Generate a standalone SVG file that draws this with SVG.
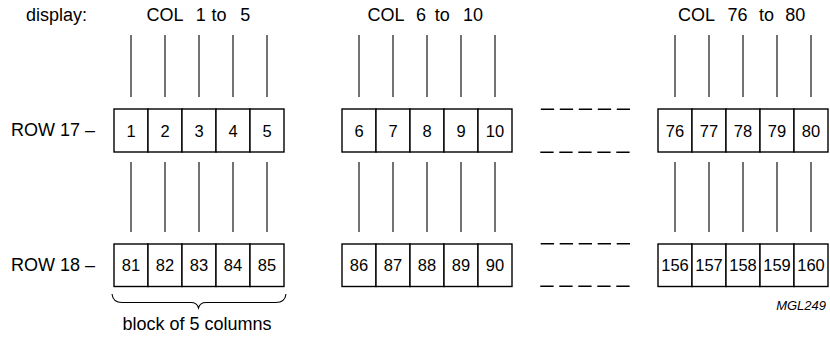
<svg xmlns="http://www.w3.org/2000/svg" width="830" height="338" viewBox="0 0 830 338">
<style>
.lbl{font-family:"Liberation Sans",Arial,sans-serif;font-size:18px;fill:#000}
.num{font-family:"Liberation Sans",Arial,sans-serif;font-size:16.5px;fill:#000;text-anchor:middle}
.tag{font-family:"Liberation Sans",Arial,sans-serif;font-size:13px;font-style:italic;fill:#000;text-anchor:end}
.cell{fill:#fff;stroke:#000;stroke-width:1.4}
.wire{stroke:#000;stroke-width:1.1;fill:none}
.dash{stroke:#000;stroke-width:1.6;stroke-dasharray:13.3 5.7;fill:none}
.brace{stroke:#000;stroke-width:1.1;fill:none}
</style>
<rect width="830" height="338" fill="#fff"/>
<g id="labels">
<text class="lbl" x="26" y="21">display:</text>
<text class="lbl" y="21"><tspan x="146.4">COL</tspan> <tspan x="195.7">1</tspan> <tspan x="211.4">to</tspan> <tspan x="240.2">5</tspan></text>
<text class="lbl" y="21"><tspan x="367.4">COL</tspan> <tspan x="415.9">6</tspan> <tspan x="434.7">to</tspan> <tspan x="463">10</tspan></text>
<text class="lbl" y="21"><tspan x="678">COL</tspan> <tspan x="727.4">76</tspan> <tspan x="759">to</tspan> <tspan x="785.2">80</tspan></text>
<text class="lbl" x="11" y="136">ROW 17 –</text>
<text class="lbl" x="11" y="270.5">ROW 18 –</text>
<text class="lbl" x="197" y="330" text-anchor="middle">block of 5 columns</text>
<text class="tag" x="826" y="309.5">MGL249</text>
</g>
<g id="connectors">
<path class="wire" d="M131 35V97M165 35V97M199 35V97M233 35V97M267 35V97M131 162V232M165 162V232M199 162V232M233 162V232M267 162V232"/>
<path class="wire" d="M359 35V97M393 35V97M427 35V97M461 35V97M495 35V97M359 162V232M393 162V232M427 162V232M461 162V232M495 162V232"/>
<path class="wire" d="M675 35V97M709 35V97M743 35V97M777 35V97M811 35V97M675 162V232M709 162V232M743 162V232M777 162V232M811 162V232"/>
<path class="dash" d="M540.8 109.3H630M540.3 152.2H630M540.7 243.8H630M540.3 286.3H630"/>
<path class="brace" d="M112 294 Q113 302.5 122 302.5 L191 302.5 Q197 302.5 198.5 308 Q200 302.5 206 302.5 L276 302.5 Q285 302.5 286 294"/>
</g>
<g id="row17-block1">
<g id="c1"><rect class="cell" x="114" y="109" width="34" height="43"/><text class="num" x="131" y="136.5">1</text></g>
<g id="c2"><rect class="cell" x="148" y="109" width="34" height="43"/><text class="num" x="165" y="136.5">2</text></g>
<g id="c3"><rect class="cell" x="182" y="109" width="34" height="43"/><text class="num" x="199" y="136.5">3</text></g>
<g id="c4"><rect class="cell" x="216" y="109" width="34" height="43"/><text class="num" x="233" y="136.5">4</text></g>
<g id="c5"><rect class="cell" x="250" y="109" width="34" height="43"/><text class="num" x="267" y="136.5">5</text></g>
</g>
<g id="row17-block2">
<g id="c6"><rect class="cell" x="342" y="109" width="34" height="43"/><text class="num" x="359" y="136.5">6</text></g>
<g id="c7"><rect class="cell" x="376" y="109" width="34" height="43"/><text class="num" x="393" y="136.5">7</text></g>
<g id="c8"><rect class="cell" x="410" y="109" width="34" height="43"/><text class="num" x="427" y="136.5">8</text></g>
<g id="c9"><rect class="cell" x="444" y="109" width="34" height="43"/><text class="num" x="461" y="136.5">9</text></g>
<g id="c10"><rect class="cell" x="478" y="109" width="34" height="43"/><text class="num" x="495" y="136.5">10</text></g>
</g>
<g id="row17-block3">
<g id="c76"><rect class="cell" x="658" y="109" width="34" height="43"/><text class="num" x="675" y="136.5">76</text></g>
<g id="c77"><rect class="cell" x="692" y="109" width="34" height="43"/><text class="num" x="709" y="136.5">77</text></g>
<g id="c78"><rect class="cell" x="726" y="109" width="34" height="43"/><text class="num" x="743" y="136.5">78</text></g>
<g id="c79"><rect class="cell" x="760" y="109" width="34" height="43"/><text class="num" x="777" y="136.5">79</text></g>
<g id="c80"><rect class="cell" x="794" y="109" width="34" height="43"/><text class="num" x="811" y="136.5">80</text></g>
</g>
<g id="row18-block1">
<g id="c81"><rect class="cell" x="114" y="244" width="34" height="42.5"/><text class="num" x="131" y="271.3">81</text></g>
<g id="c82"><rect class="cell" x="148" y="244" width="34" height="42.5"/><text class="num" x="165" y="271.3">82</text></g>
<g id="c83"><rect class="cell" x="182" y="244" width="34" height="42.5"/><text class="num" x="199" y="271.3">83</text></g>
<g id="c84"><rect class="cell" x="216" y="244" width="34" height="42.5"/><text class="num" x="233" y="271.3">84</text></g>
<g id="c85"><rect class="cell" x="250" y="244" width="34" height="42.5"/><text class="num" x="267" y="271.3">85</text></g>
</g>
<g id="row18-block2">
<g id="c86"><rect class="cell" x="342" y="244" width="34" height="42.5"/><text class="num" x="359" y="271.3">86</text></g>
<g id="c87"><rect class="cell" x="376" y="244" width="34" height="42.5"/><text class="num" x="393" y="271.3">87</text></g>
<g id="c88"><rect class="cell" x="410" y="244" width="34" height="42.5"/><text class="num" x="427" y="271.3">88</text></g>
<g id="c89"><rect class="cell" x="444" y="244" width="34" height="42.5"/><text class="num" x="461" y="271.3">89</text></g>
<g id="c90"><rect class="cell" x="478" y="244" width="34" height="42.5"/><text class="num" x="495" y="271.3">90</text></g>
</g>
<g id="row18-block3">
<g id="c156"><rect class="cell" x="658" y="244" width="34" height="42.5"/><text class="num" x="675" y="271.3">156</text></g>
<g id="c157"><rect class="cell" x="692" y="244" width="34" height="42.5"/><text class="num" x="709" y="271.3">157</text></g>
<g id="c158"><rect class="cell" x="726" y="244" width="34" height="42.5"/><text class="num" x="743" y="271.3">158</text></g>
<g id="c159"><rect class="cell" x="760" y="244" width="34" height="42.5"/><text class="num" x="777" y="271.3">159</text></g>
<g id="c160"><rect class="cell" x="794" y="244" width="34" height="42.5"/><text class="num" x="811" y="271.3">160</text></g>
</g>
</svg>
